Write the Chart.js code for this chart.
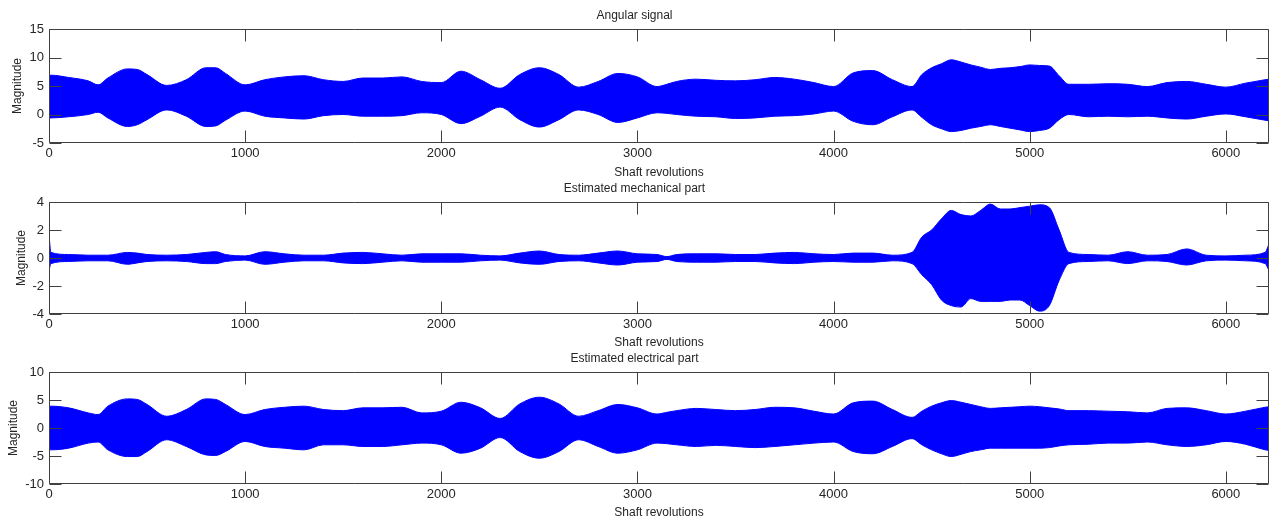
<!DOCTYPE html>
<html>
<head>
<meta charset="utf-8">
<title>Angular signal</title>
<script src="https://cdn.jsdelivr.net/npm/chart.js@4.4.1/dist/chart.umd.min.js"></script>
<style>
    body { margin: 0; background: #fff; }
    #wrap { position: relative; width: 1273px; height: 525px; overflow: hidden; }
    canvas { position: absolute; left: 0; }
</style>
</head>
<body>
<div id="wrap">
    <canvas id="angChart" width="1273" height="180" style="top:0px"></canvas>
    <canvas id="mechChart" width="1273" height="180" style="top:173px"></canvas>
    <canvas id="elecChart" width="1273" height="180" style="top:343px"></canvas>
</div>
<script>
// envelope of each signal (shaft revolutions)
const revolutions = [0, 10, 100, 200, 250, 300, 400, 450, 500, 600, 700, 800, 850, 900, 1000,
    1100, 1200, 1300, 1400, 1500, 1600, 1700, 1800, 1900, 2000, 2100, 2200, 2300, 2400, 2500,
    2600, 2700, 2800, 2900, 3000, 3100, 3150, 3200, 3300, 3400, 3500, 3600, 3700, 3800, 3900,
    4000, 4100, 4200, 4300, 4400, 4450, 4500, 4550, 4600, 4650, 4700, 4750, 4800, 4850, 4900,
    4950, 5000, 5050, 5100, 5150, 5200, 5300, 5400, 5500, 5600, 5700, 5800, 5900, 6000, 6100,
    6200, 6220];

const angularUpper = [6.8, 6.9, 6.5, 5.9, 5.2, 6.4, 8.0, 7.9, 7.0, 5.1, 6.1, 8.2, 8.2, 7.2, 5.2,
    6.1, 6.6, 6.8, 6.1, 5.8, 6.4, 6.4, 6.6, 5.8, 5.6, 7.6, 6.1, 4.6, 7.0, 8.2,
    7.0, 4.8, 5.8, 7.2, 6.6, 4.9, 5.3, 5.8, 6.2, 6.0, 5.9, 6.1, 6.5, 6.2, 5.6,
    4.9, 7.3, 7.7, 6.1, 4.9, 7.0, 8.2, 8.9, 9.6, 9.2, 8.7, 8.3, 7.9, 8.1, 8.2,
    8.4, 8.7, 8.6, 8.5, 6.8, 5.3, 5.3, 5.4, 5.3, 4.9, 5.6, 5.8, 5.3, 4.8, 5.5,
    6.1, 6.2];
const angularLower = [-0.6, -0.6, -0.4, 0.0, 0.4, -0.6, -2.1, -1.8, -0.9, 0.8, -0.3, -2.1, -2.0, -1.0, 0.6,
    -0.3, -0.6, -0.8, -0.2, 0.0, -0.3, -0.3, -0.2, 0.3, 0.0, -1.6, -0.3, 1.3, -0.9, -2.2,
    -0.9, 0.8, 0.0, -1.4, -0.6, 0.3, 0.2, 0.0, -0.3, -0.4, -0.7, -0.6, -0.3, -0.2, 0.1,
    0.6, -1.2, -1.8, -0.4, 0.8, -0.5, -1.8, -2.5, -3.0, -2.8, -2.4, -2.1, -1.8, -2.1, -2.4,
    -2.7, -3.0, -2.8, -2.4, -0.9, 0.0, -0.4, -0.3, -0.4, -0.3, -0.6, -0.8, -0.3, 0.1, -0.4,
    -1.0, -1.1];

const mechUpper = [1.6, 0.4, 0.25, 0.2, 0.2, 0.2, 0.4, 0.35, 0.25, 0.2, 0.25, 0.4, 0.45, 0.25, 0.15,
    0.45, 0.3, 0.2, 0.2, 0.35, 0.4, 0.3, 0.2, 0.3, 0.3, 0.3, 0.2, 0.15, 0.35, 0.5,
    0.25, 0.2, 0.35, 0.5, 0.3, 0.25, 0.1, 0.25, 0.3, 0.3, 0.25, 0.25, 0.35, 0.4, 0.3,
    0.25, 0.35, 0.35, 0.2, 0.4, 1.5, 2.0, 2.8, 3.4, 3.1, 3.0, 3.4, 3.85, 3.5, 3.5,
    3.6, 3.7, 3.8, 3.6, 2.0, 0.4, 0.25, 0.2, 0.45, 0.2, 0.25, 0.65, 0.2, 0.15, 0.2,
    0.4, 1.0];
const mechLower = [-0.9, -0.4, -0.25, -0.2, -0.2, -0.2, -0.45, -0.35, -0.25, -0.2, -0.25, -0.4, -0.4, -0.25, -0.15,
    -0.45, -0.3, -0.2, -0.2, -0.35, -0.4, -0.3, -0.2, -0.3, -0.3, -0.3, -0.2, -0.15, -0.35, -0.45,
    -0.25, -0.2, -0.35, -0.5, -0.3, -0.25, -0.1, -0.25, -0.3, -0.3, -0.25, -0.25, -0.35, -0.4, -0.3,
    -0.25, -0.3, -0.3, -0.2, -0.4, -1.2, -1.9, -3.0, -3.4, -3.5, -2.9, -3.1, -3.1, -3.1, -3.0,
    -3.0, -3.4, -3.8, -3.4, -1.6, -0.4, -0.25, -0.2, -0.4, -0.2, -0.25, -0.5, -0.2, -0.15, -0.2,
    -0.4, -0.9];

const elecUpper = [3.9, 3.9, 3.6, 2.7, 2.4, 3.9, 5.2, 5.1, 4.2, 2.1, 3.3, 5.2, 5.1, 4.2, 2.4,
    3.3, 3.7, 3.9, 3.3, 3.1, 3.6, 3.6, 3.7, 2.7, 3.0, 4.6, 3.6, 1.7, 4.3, 5.5,
    4.3, 2.1, 3.1, 4.2, 3.6, 2.5, 2.8, 3.1, 3.5, 3.3, 3.1, 3.3, 3.7, 3.6, 3.0,
    2.5, 4.5, 4.8, 3.3, 1.9, 3.0, 3.9, 4.5, 4.9, 4.6, 4.2, 3.8, 3.5, 3.6, 3.7,
    3.8, 3.9, 3.8, 3.6, 3.4, 3.1, 3.1, 3.0, 2.9, 2.7, 3.5, 3.6, 3.1, 2.5, 3.0,
    3.7, 3.8];
const elecLower = [-3.9, -3.9, -3.6, -2.7, -2.5, -3.9, -5.1, -5.1, -4.2, -2.1, -3.3, -4.8, -4.9, -4.2, -2.4,
    -3.3, -3.6, -3.9, -3.0, -3.0, -3.3, -3.3, -3.0, -2.7, -3.0, -4.5, -3.6, -1.7, -4.2, -5.4,
    -4.2, -2.1, -3.3, -4.5, -3.9, -2.7, -2.8, -3.0, -3.3, -3.1, -3.3, -3.5, -3.3, -3.0, -2.7,
    -2.5, -4.2, -4.6, -3.3, -1.9, -3.0, -3.9, -4.6, -5.1, -4.7, -4.2, -3.9, -3.6, -3.6, -3.6,
    -3.6, -3.6, -3.6, -3.5, -3.2, -3.0, -2.9, -2.7, -2.7, -2.5, -3.0, -3.3, -3.0, -2.4, -2.9,
    -3.9, -4.0];

const xTicks = [0, 1000, 2000, 3000, 4000, 5000, 6000];
const angularTicks = [-5, 0, 5, 10, 15];
const mechTicks = [-4, -2, 0, 2, 4];
const elecTicks = [-10, -5, 0, 5, 10];

const xMax = 6220;
const blue = "#0000ff";
const axisColor = "#404040";
const textColor = "#262626";
const fontFamily = "'Liberation Sans', Arial, Helvetica, sans-serif";
const tickLen = 12;

// matlab style box with ticks pointing inwards
const matlabBox = {
    id: "matlabBox",
    afterDatasetsDraw(chart) {
        const { ctx, chartArea: a, scales: { x, y } } = chart;
        const l = Math.round(a.left) + 0.5, r = Math.round(a.right) - 0.5;
        const t = Math.round(a.top) + 0.5, b = Math.round(a.bottom) - 0.5;
        ctx.save();
        ctx.strokeStyle = axisColor;
        ctx.lineWidth = 1;
        ctx.beginPath();
        x.ticks.forEach(tk => {
            const px = Math.round(x.getPixelForValue(tk.value)) + 0.5;
            ctx.moveTo(px, b); ctx.lineTo(px, b - tickLen);
            ctx.moveTo(px, t); ctx.lineTo(px, t + tickLen);
        });
        y.ticks.forEach(tk => {
            const py = Math.round(y.getPixelForValue(tk.value)) + 0.5;
            ctx.moveTo(l, py); ctx.lineTo(l + tickLen, py);
            ctx.moveTo(r, py); ctx.lineTo(r - tickLen, py);
        });
        ctx.rect(l, t, r - l, b - t);
        ctx.stroke();
        ctx.restore();
    }
};

function makeChart(id, title, upper, lower, yTicks, plotBottom, yTitlePad, xTitlePad) {
    const ctx = document.getElementById(id).getContext("2d");
    const canvasHeight = 180;
    return new Chart(ctx, {
        type: "line",
        data: {
            datasets: [{
                data: revolutions.map((r, i) => ({ x: r, y: upper[i] })),
                borderColor: blue,
                borderWidth: 1,
                pointRadius: 0,
                cubicInterpolationMode: "monotone",
                fill: false
            }, {
                data: revolutions.map((r, i) => ({ x: r, y: lower[i] })),
                borderColor: blue,
                borderWidth: 1,
                pointRadius: 0,
                cubicInterpolationMode: "monotone",
                backgroundColor: blue,
                fill: "-1"
            }]
        },
        options: {
            responsive: false,
            animation: false,
            devicePixelRatio: 1,
            layout: { padding: { left: 0, right: 4, top: 0, bottom: 0 } },
            plugins: {
                legend: { display: false },
                tooltip: { enabled: false },
                title: {
                    display: true,
                    text: title,
                    color: textColor,
                    font: { family: fontFamily, size: 12, weight: "normal", lineHeight: 1.2 },
                    padding: { top: 8, bottom: 6.6 }
                }
            },
            scales: {
                x: {
                    type: "linear",
                    min: 0,
                    max: xMax,
                    afterBuildTicks: s => { s.ticks = xTicks.map(v => ({ value: v })); },
                    afterFit: s => { s.height = canvasHeight - plotBottom; },
                    grid: { display: false, drawTicks: false },
                    border: { display: false },
                    ticks: {
                        padding: 3,
                        color: textColor,
                        font: { family: fontFamily, size: 13 },
                        maxRotation: 0,
                        callback: v => String(v)
                    },
                    title: {
                        display: true,
                        text: "Shaft revolutions",
                        color: textColor,
                        font: { family: fontFamily, size: 12, lineHeight: 1.2 },
                        padding: { top: 0, bottom: xTitlePad }
                    }
                },
                y: {
                    min: yTicks[0],
                    max: yTicks[yTicks.length - 1],
                    afterBuildTicks: s => { s.ticks = yTicks.map(v => ({ value: v })); },
                    afterFit: s => { s.width = 49; },
                    grid: { display: false, drawTicks: false },
                    border: { display: false },
                    ticks: {
                        padding: 5,
                        color: textColor,
                        font: { family: fontFamily, size: 13 },
                        callback: v => String(v)
                    },
                    title: {
                        display: true,
                        text: "Magnitude",
                        color: textColor,
                        font: { family: fontFamily, size: 12, lineHeight: 1.2 },
                        padding: { top: yTitlePad, bottom: 0 }
                    }
                }
            }
        },
        plugins: [matlabBox]
    });
}

makeChart("angChart", "Angular signal", angularUpper, angularLower, angularTicks, 143, 10, 0.2);
makeChart("mechChart", "Estimated mechanical part", mechUpper, mechLower, mechTicks, 141, 14, 3.2);
makeChart("elecChart", "Estimated electrical part", elecUpper, elecLower, elecTicks, 141, 6, 3.2);
</script>
</body>
</html>
